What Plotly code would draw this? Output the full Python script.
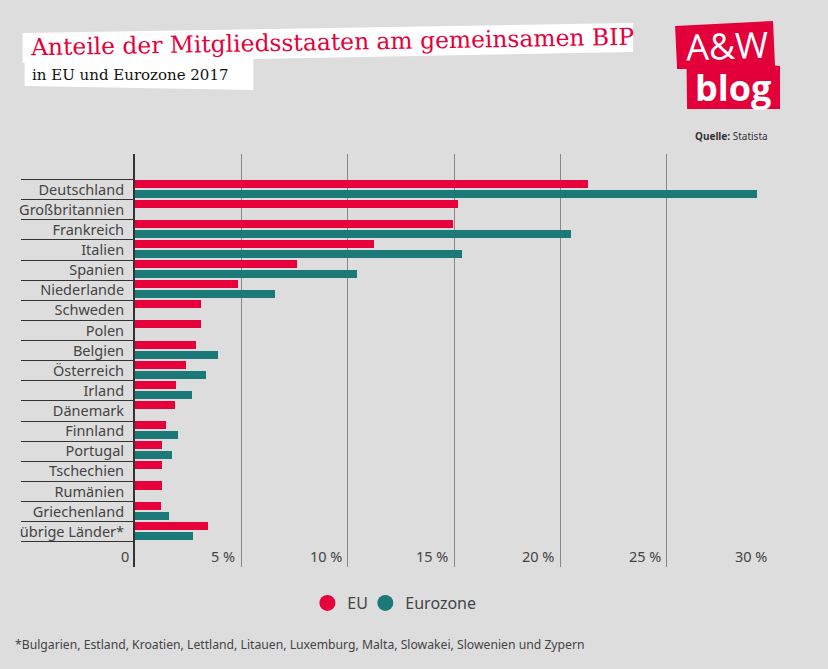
import plotly.graph_objects as go

categories = ["Deutschland", "Großbritannien", "Frankreich", "Italien", "Spanien", "Niederlande",
              "Schweden", "Polen", "Belgien", "Österreich", "Irland", "Dänemark", "Finnland",
              "Portugal", "Tschechien", "Rumänien", "Griechenland", "übrige Länder*"]
eu = [21.31, 15.2, 14.97, 11.25, 7.64, 4.82, 3.12, 3.08, 2.89, 2.42, 1.95, 1.9, 1.48, 1.29, 1.29, 1.25, 1.2, 3.45]
eurozone = [29.25, None, 20.51, 15.39, 10.46, 6.6, None, None, 3.92, 3.36, 2.66, None, 2.04, 1.76, None, None, 1.62, 2.75]
x_ticks = [5, 10, 15, 20, 25, 30]
x_tick_text = ["5 %", "10 %", "15 %", "20 %", "25 %", "30 %"]

RED = "#e6003c"
TEAL = "#1b7a78"
BG = "#dddddd"
TXT = "#444444"
FONT = "Noto Sans"
SLAB = "DejaVu Serif"

fig = go.Figure()
fig.add_trace(go.Bar(y=categories, x=eu, orientation="h", width=0.4, offset=-0.5, marker_color=RED,
                     marker_line_width=0, showlegend=False))
fig.add_trace(go.Bar(y=categories, x=eurozone, orientation="h", width=0.4, offset=0.0, marker_color=TEAL,
                     marker_line_width=0, showlegend=False))
fig.add_trace(go.Scatter(x=[None], y=[None], mode="markers", name="EU", legend="legend",
                         marker=dict(color=RED, size=16, symbol="circle")))
fig.add_trace(go.Scatter(x=[None], y=[None], mode="markers", name="Eurozone", legend="legend2",
                         marker=dict(color=TEAL, size=16, symbol="circle")))

L, T, R, B = 134.5, 154, 773, 567
W, H = 828, 669

def ppx(x): return (x - L) / (R - L)
def ppy(y): return (B - y) / (B - T)
def ppoly(points, color):
    path = "M " + " L ".join(f"{round(ppx(x), 5)},{round(ppy(y), 5)}" for x, y in points) + " Z"
    return dict(type="path", xref="paper", yref="paper", path=path, fillcolor=color, line_width=0, layer="above")

shapes = [
    ppoly([(22, 33), (633, 23), (633, 52), (253, 59), (253, 90), (24, 86), (24, 63), (22, 63)], "#ffffff"),
    ppoly([(675, 26), (773, 21), (775, 65.5), (780, 66), (780, 109), (687, 109), (686.5, 69), (677, 69)], "#e3003a"),
]

annotations = []
def note(x, y, text, size, color, family=FONT, xanchor="left", angle=0, yanchor="middle"):
    annotations.append(dict(x=ppx(x), y=ppy(y), xref="paper", yref="paper", text=text, showarrow=False,
                            xanchor=xanchor, yanchor=yanchor, textangle=angle,
                            font=dict(size=size, color=color, family=family)))

note(27.5, 42, "Anteile der Mitgliedsstaaten am gemeinsamen BIP", 23.4, RED, SLAB, angle=-1)
note(29, 75, "in EU und Eurozone 2017", 15, "#111111", SLAB)
note(727, 46, "A&W", 36, "#ffffff", "Open Sans", xanchor="center", angle=-2)
note(733, 87, "<b>blog</b>", 36, "#ffffff", "Open Sans", xanchor="center")
note(693, 136, "<b>Quelle:</b> Statista", 10, "#333333")
note(12, 644, "*Bulgarien, Estland, Kroatien, Lettland, Litauen, Luxemburg, Malta, Slowakei, Slowenien und Zypern", 12.2, TXT)
for v, t in zip(x_ticks, x_tick_text):
    annotations.append(dict(x=v, y=ppy(556), xref="x", yref="paper", text=t, showarrow=False,
                            xanchor="right", xshift=-4, yanchor="middle", font=dict(size=14.5, color=TXT, family=FONT)))
note(130, 556, "0", 14.5, TXT, xanchor="right")

legend_style = dict(orientation="h", y=ppy(603), xanchor="left", yanchor="middle", itemwidth=30,
                    font=dict(size=16, color=TXT, family=FONT), bgcolor="rgba(0,0,0,0)")

fig.update_layout(
    width=W, height=H, margin=dict(l=L, r=W - R, t=T, b=H - B, pad=0),
    paper_bgcolor=BG, plot_bgcolor=BG, barmode="overlay", bargap=0,
    shapes=shapes, annotations=annotations,
    legend=dict(x=ppx(307), **legend_style),
    legend2=dict(x=ppx(365), **legend_style),
    xaxis=dict(range=[0, 30], tickvals=x_ticks, showticklabels=False, showgrid=True, gridcolor="#888888",
               gridwidth=1, zeroline=False, showline=False, ticks=""),
    yaxis=dict(autorange=False, range=[18.75, -1.767], categoryorder="array", categoryarray=categories,
               type="category", tickmode="array", tickvals=categories, ticks="outside", tickson="boundaries",
               ticklen=112, tickwidth=1, tickcolor="#333333", ticklabelstandoff=6,
               tickfont=dict(size=14.5, color=TXT, family=FONT), showgrid=False, zeroline=False,
               showline=True, linecolor="#333333", linewidth=2),
)
fig.write_html("out.html", config={"displayModeBar": False},
               post_script="document.body.style.margin='0';document.body.style.background='#dddddd';")
